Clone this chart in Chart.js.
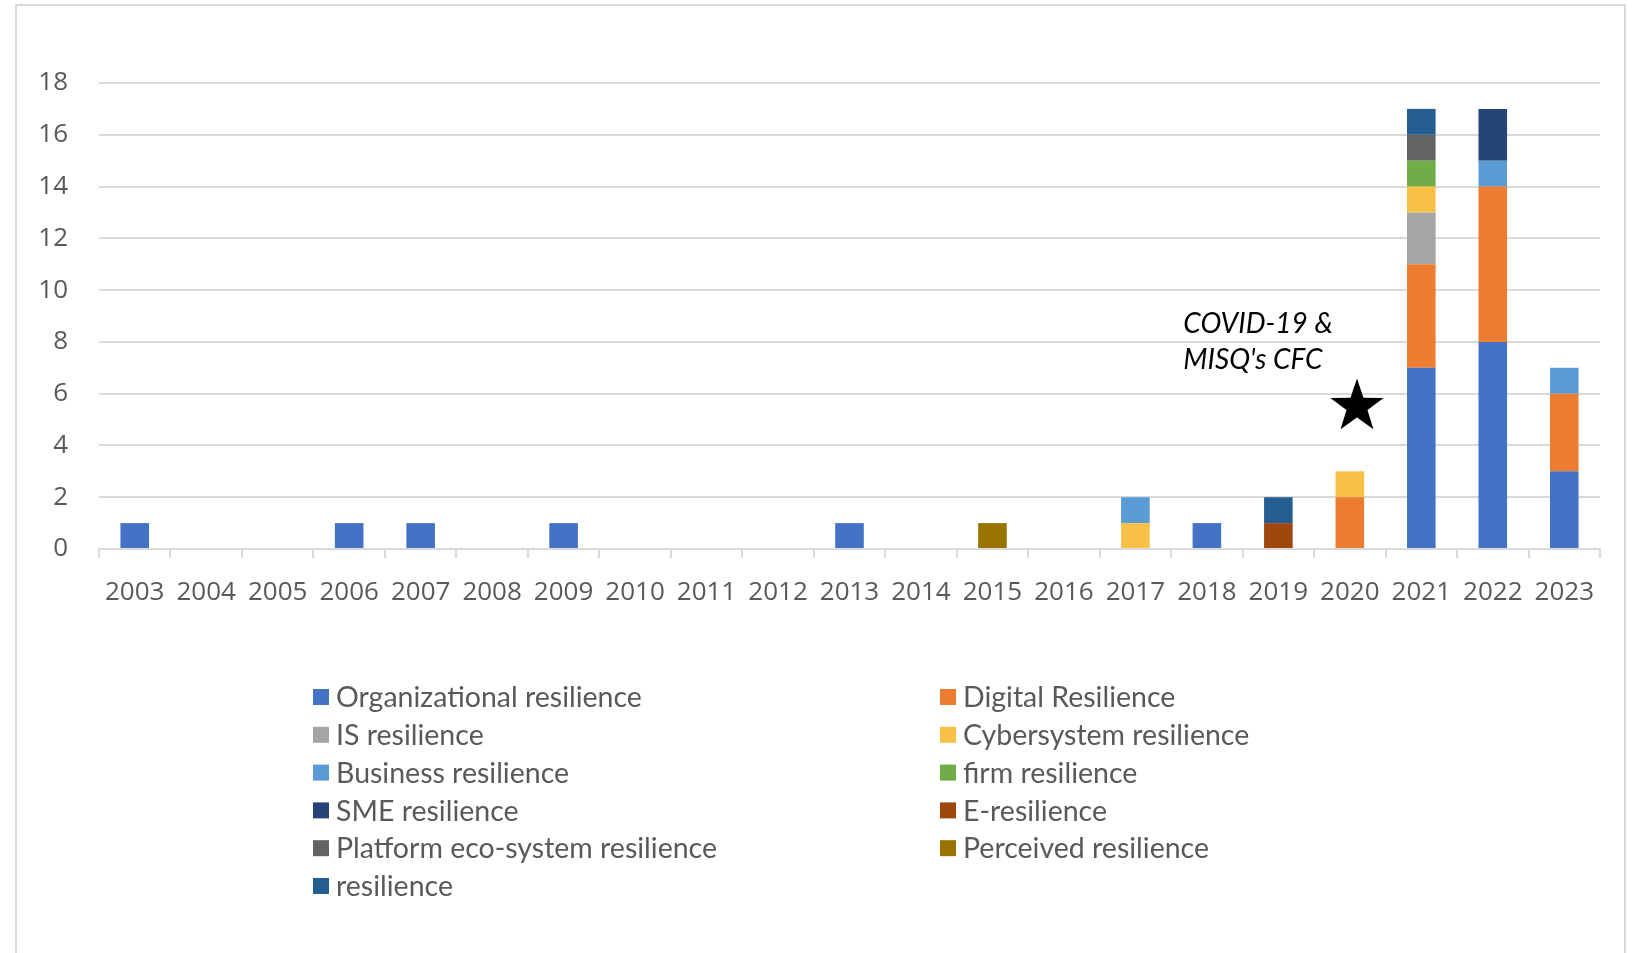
<!DOCTYPE html>
<html>
<head>
<meta charset="utf-8">
<title>Resilience publications by year</title>
<script src="https://cdn.jsdelivr.net/npm/chart.js@4.4.1/dist/chart.umd.min.js"></script>
<style>
  html, body { margin: 0; padding: 0; background: #ffffff; }
  canvas { display: block; }
</style>
</head>
<body>
<canvas id="resilienceChart" width="1638" height="953"></canvas>
<script>
// Categories (x axis)
const years = ['2003', '2004', '2005', '2006', '2007', '2008', '2009', '2010', '2011', '2012',
  '2013', '2014', '2015', '2016', '2017', '2018', '2019', '2020', '2021', '2022', '2023'];

// Series values, one per year (stack order bottom to top)
const organizational = [1, 0, 0, 1, 1, 0, 1, 0, 0, 0, 1, 0, 0, 0, 0, 1, 0, 0, 7, 8, 3];
const digital        = [0, 0, 0, 0, 0, 0, 0, 0, 0, 0, 0, 0, 0, 0, 0, 0, 0, 2, 4, 6, 3];
const isRes          = [0, 0, 0, 0, 0, 0, 0, 0, 0, 0, 0, 0, 0, 0, 0, 0, 0, 0, 2, 0, 0];
const cybersystem    = [0, 0, 0, 0, 0, 0, 0, 0, 0, 0, 0, 0, 0, 0, 1, 0, 0, 1, 1, 0, 0];
const business       = [0, 0, 0, 0, 0, 0, 0, 0, 0, 0, 0, 0, 0, 0, 1, 0, 0, 0, 0, 1, 1];
const firm           = [0, 0, 0, 0, 0, 0, 0, 0, 0, 0, 0, 0, 0, 0, 0, 0, 0, 0, 1, 0, 0];
const sme            = [0, 0, 0, 0, 0, 0, 0, 0, 0, 0, 0, 0, 0, 0, 0, 0, 0, 0, 0, 2, 0];
const eRes           = [0, 0, 0, 0, 0, 0, 0, 0, 0, 0, 0, 0, 0, 0, 0, 0, 1, 0, 0, 0, 0];
const platform       = [0, 0, 0, 0, 0, 0, 0, 0, 0, 0, 0, 0, 0, 0, 0, 0, 0, 0, 1, 0, 0];
const perceived      = [0, 0, 0, 0, 0, 0, 0, 0, 0, 0, 0, 0, 1, 0, 0, 0, 0, 0, 0, 0, 0];
const plainRes       = [0, 0, 0, 0, 0, 0, 0, 0, 0, 0, 0, 0, 0, 0, 0, 0, 1, 0, 1, 0, 0];

const seriesNames = ['Organizational resilience', 'Digital Resilience', 'IS resilience',
  'Cybersystem resilience', 'Business resilience', 'firm resilience', 'SME resilience',
  'E-resilience', 'Platform eco-system resilience', 'Perceived resilience', 'resilience'];
const seriesValues = [organizational, digital, isRes, cybersystem, business, firm, sme,
  eRes, platform, perceived, plainRes];
const seriesColors = ['#4472C4', '#ED7D31', '#A5A5A5', '#F8C145', '#5B9BD5', '#70AD47',
  '#264478', '#9E480E', '#636363', '#997300', '#255E91'];

// Y axis ticks
const yTicks = [0, 2, 4, 6, 8, 10, 12, 14, 16, 18];

// Annotation
const noteLines = ['COVID-19 &', "MISQ's CFC"];

const axisColor = '#595959';
const gridColor = '#D9D9D9';

// Outer frame like the Excel chart area
const framePlugin = {
  id: 'frame',
  beforeDraw(chart) {
    const ctx = chart.ctx;
    ctx.save();
    ctx.fillStyle = '#ffffff';
    ctx.fillRect(0, 0, chart.width, chart.height);
    ctx.strokeStyle = gridColor;
    ctx.lineWidth = 2;
    ctx.strokeRect(16, 5, 1609, 980);
    ctx.restore();
  }
};

// Star and the COVID note, placed with the scales
const notePlugin = {
  id: 'note',
  afterDatasetsDraw(chart) {
    const ctx = chart.ctx;
    const x = chart.scales.x;
    const y = chart.scales.y;

    // star
    const cx = x.getPixelForValue(17.1);
    const cy = y.getPixelForValue(5.5);
    const outer = 28, inner = 11;
    ctx.save();
    ctx.beginPath();
    for (let i = 0; i < 10; i++) {
      const r = i % 2 === 0 ? outer : inner;
      const a = -Math.PI / 2 + i * Math.PI / 5;
      const px = cx + r * Math.cos(a);
      const py = cy + r * Math.sin(a);
      if (i === 0) ctx.moveTo(px, py); else ctx.lineTo(px, py);
    }
    ctx.closePath();
    ctx.fillStyle = '#000000';
    ctx.fill();

    // text
    ctx.font = 'italic 28px Lato';
    ctx.fillStyle = '#000000';
    ctx.textAlign = 'left';
    ctx.textBaseline = 'middle';
    const tx = x.getPixelForValue(14.67);
    ctx.fillText(noteLines[0], tx, y.getPixelForValue(8.7));
    ctx.fillText(noteLines[1], tx, y.getPixelForValue(7.3));
    ctx.restore();
  }
};

// Two-column legend under the plot
const legendPlugin = {
  id: 'twoColLegend',
  afterDraw(chart) {
    const ctx = chart.ctx;
    const colX = [313, 940];
    const top = 697;
    const rowH = 37.8;
    ctx.save();
    ctx.font = '28.5px Lato';
    ctx.textBaseline = 'middle';
    ctx.textAlign = 'left';
    chart.data.datasets.forEach((ds, i) => {
      const bx = colX[i % 2];
      const by = top + Math.floor(i / 2) * rowH;
      ctx.fillStyle = ds.backgroundColor;
      ctx.fillRect(bx, by - 8, 16, 16);
      ctx.fillStyle = axisColor;
      ctx.fillText(ds.label, bx + 23, by + 1);
    });
    ctx.restore();
  }
};

const datasets = seriesNames.map((name, i) => {
  return {
    label: name,
    data: seriesValues[i],
    backgroundColor: seriesColors[i],
    borderWidth: 0,
    barPercentage: 0.4,
    categoryPercentage: 1.0
  };
});

new Chart(document.getElementById('resilienceChart'), {
  type: 'bar',
  data: {
    labels: years,
    datasets: datasets
  },
  plugins: [framePlugin, notePlugin, legendPlugin],
  options: {
    responsive: false,
    devicePixelRatio: 1,
    animation: false,
    layout: {
      padding: { left: 19, right: 38, top: 83, bottom: 304 }
    },
    plugins: {
      legend: { display: false },
      tooltip: { enabled: false },
      title: { display: false }
    },
    scales: {
      x: {
        stacked: true,
        afterFit: function(scale) { scale.height = 100; },
        grid: {
          display: true,
          drawOnChartArea: false,
          drawTicks: true,
          tickLength: 9,
          color: gridColor,
          lineWidth: 2
        },
        border: { display: true, color: gridColor, width: 2 },
        ticks: {
          color: axisColor,
          font: { family: 'Open Sans', size: 26 },
          padding: 19,
          maxRotation: 0,
          autoSkip: false
        }
      },
      y: {
        stacked: true,
        min: 0,
        max: 18,
        afterFit: function(scale) { scale.width = 80; },
        afterBuildTicks: function(scale) {
          scale.ticks = yTicks.map(v => ({ value: v }));
        },
        grid: {
          color: gridColor,
          lineWidth: 2,
          drawTicks: false
        },
        border: { display: false },
        ticks: {
          color: axisColor,
          font: { family: 'Open Sans', size: 26 },
          padding: 31
        }
      }
    }
  }
});
</script>
</body>
</html>
